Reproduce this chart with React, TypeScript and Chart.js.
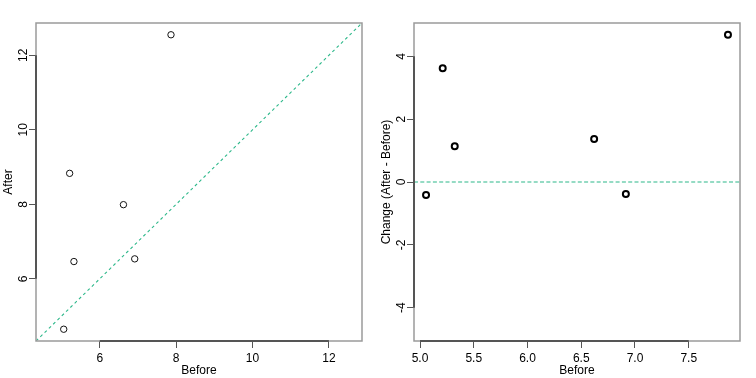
import React, { useEffect, useRef } from "react";
import { Chart, registerables } from "chart.js";

Chart.register(...registerables);

// ---- Data ----
const before = [5.056, 5.211, 5.323, 6.62, 6.915, 7.865];
const after = [4.646, 8.831, 6.463, 7.99, 6.535, 12.551];
const change = [-0.41, 3.62, 1.14, 1.37, -0.38, 4.686];

const leftLim = [4.33, 12.867];
const leftXTicks = [6, 8, 10, 12];
const leftYTicks = [6, 8, 10, 12];
const leftXLabels = ["6", "8", "10", "12"];
const leftYLabels = ["6", "8", "10", "12"];

const rightXLim = [4.944, 7.977];
const rightYLim = [-5.061, 5.061];
const rightXTicks = [5.0, 5.5, 6.0, 6.5, 7.0, 7.5];
const rightXLabels = ["5.0", "5.5", "6.0", "6.5", "7.0", "7.5"];
const rightYTicks = [-4, -2, 0, 2, 4];
const rightYLabels = ["-4", "-2", "0", "2", "4"];

const FONT = "'Liberation Sans', Arial, Helvetica, sans-serif";
const TEAL = "#2DB88A";
const BOX = "#9a9a9a";
const AXIS = "#555555";

const framePlugin = {
  id: "rframe",
  afterDraw(chart: any) {
    const { ctx, chartArea } = chart;
    const { left, right, top, bottom } = chartArea;
    const xs = chart.scales.x;
    const ys = chart.scales.y;
    const opts = chart.options.plugins.rframe;
    ctx.save();
    ctx.strokeStyle = BOX;
    ctx.lineWidth = 1.5;
    ctx.strokeRect(left, top, right - left, bottom - top);
    ctx.strokeStyle = AXIS;
    ctx.lineWidth = 2;
    ctx.beginPath();
    const xt = xs.ticks;
    ctx.moveTo(xs.getPixelForValue(xt[0].value), bottom);
    ctx.lineTo(xs.getPixelForValue(xt[xt.length - 1].value), bottom);
    const yt = ys.ticks;
    ctx.moveTo(left, ys.getPixelForValue(yt[0].value));
    ctx.lineTo(left, ys.getPixelForValue(yt[yt.length - 1].value));
    ctx.stroke();
    ctx.fillStyle = "#000";
    ctx.font = `12px ${FONT}`;
    ctx.textAlign = "center";
    ctx.textBaseline = "alphabetic";
    yt.forEach((t: any, i: number) => {
      const y = ys.getPixelForValue(t.value);
      ctx.save();
      ctx.translate(left - 9.3, y);
      ctx.rotate(-Math.PI / 2);
      ctx.fillText(opts.yLabels[i], 0, 0);
      ctx.restore();
    });
    ctx.restore();
  },
};

function makeOptions(
  xLim: number[],
  yLim: number[],
  xTicks: number[],
  xLabels: string[],
  yTicks: number[],
  yLabels: string[],
  yTitle: string
): any {
  return {
    responsive: false,
    maintainAspectRatio: false,
    animation: false,
    devicePixelRatio: 1,
    layout: { padding: { top: 23, right: 16, left: 0, bottom: 0 } },
    plugins: {
      legend: { display: false },
      tooltip: { enabled: false },
      rframe: { yLabels },
    },
    scales: {
      x: {
        type: "linear",
        position: "bottom",
        min: xLim[0],
        max: xLim[1],
        afterBuildTicks: (s: any) => {
          s.ticks = xTicks.map((v) => ({ value: v }));
        },
        afterFit: (s: any) => {
          s.height = 37;
        },
        grid: {
          drawOnChartArea: false,
          drawTicks: true,
          tickLength: 7,
          color: AXIS,
          lineWidth: 1,
        },
        border: { display: false },
        ticks: {
          autoSkip: false,
          maxRotation: 0,
          minRotation: 0,
          padding: 3,
          color: "#000",
          font: { size: 12, family: FONT },
          callback: (_v: any, i: number) => xLabels[i],
        },
        title: {
          display: true,
          text: "Before",
          color: "#000",
          font: { size: 12, family: FONT, lineHeight: 1.2 },
          padding: { top: 0, bottom: 0 },
        },
      },
      y: {
        type: "linear",
        position: "left",
        min: yLim[0],
        max: yLim[1],
        afterBuildTicks: (s: any) => {
          s.ticks = yTicks.map((v) => ({ value: v }));
        },
        afterFit: (s: any) => {
          s.width = 36;
        },
        grid: {
          drawOnChartArea: false,
          drawTicks: true,
          tickLength: 7,
          color: AXIS,
          lineWidth: 1,
        },
        border: { display: false },
        ticks: { display: false },
        title: {
          display: true,
          text: yTitle,
          color: "#000",
          font: { size: 12, family: FONT, lineHeight: 1.2 },
          padding: { top: 1.5, bottom: 0 },
        },
      },
    },
  };
}

function LeftChart() {
  const ref = useRef<HTMLCanvasElement | null>(null);
  useEffect(() => {
    if (!ref.current) return;
    const chart = new Chart(ref.current, {
      type: "scatter",
      data: {
        datasets: [
          {
            type: "line",
            data: [
              { x: leftLim[0], y: leftLim[0] },
              { x: leftLim[1], y: leftLim[1] },
            ],
            borderColor: TEAL,
            backgroundColor: TEAL,
            borderWidth: 1.1,
            borderDash: [3, 3],
            pointRadius: 0,
            fill: false,
          } as any,
          {
            data: before.map((b, i) => ({ x: b, y: after[i] })),
            pointStyle: "circle",
            pointRadius: 3.2,
            borderColor: "#111",
            borderWidth: 1,
            backgroundColor: "rgba(0,0,0,0)",
          },
        ],
      },
      options: makeOptions(
        leftLim,
        leftLim,
        leftXTicks,
        leftXLabels,
        leftYTicks,
        leftYLabels,
        "After"
      ),
      plugins: [framePlugin],
    });
    return () => chart.destroy();
  }, []);
  return (
    <canvas
      ref={ref}
      width={378}
      height={378}
      style={{ position: "absolute", left: 0, top: 0, width: 378, height: 378 }}
    />
  );
}

function RightChart() {
  const ref = useRef<HTMLCanvasElement | null>(null);
  useEffect(() => {
    if (!ref.current) return;
    const chart = new Chart(ref.current, {
      type: "scatter",
      data: {
        datasets: [
          {
            type: "line",
            data: [
              { x: rightXLim[0], y: 0 },
              { x: rightXLim[1], y: 0 },
            ],
            borderColor: TEAL,
            backgroundColor: TEAL,
            borderWidth: 1.2,
            borderDash: [4, 2.3],
            pointRadius: 0,
            fill: false,
          } as any,
          {
            data: before.map((b, i) => ({ x: b, y: change[i] })),
            pointStyle: "circle",
            pointRadius: 3,
            borderColor: "#000",
            borderWidth: 2,
            backgroundColor: "rgba(0,0,0,0)",
          },
        ],
      },
      options: makeOptions(
        rightXLim,
        rightYLim,
        rightXTicks,
        rightXLabels,
        rightYTicks,
        rightYLabels,
        "Change (After - Before)"
      ),
      plugins: [framePlugin],
    });
    return () => chart.destroy();
  }, []);
  return (
    <canvas
      ref={ref}
      width={378}
      height={378}
      style={{ position: "absolute", left: 378, top: 0, width: 378, height: 378 }}
    />
  );
}

export default function App() {
  return (
    <div
      style={{
        position: "absolute",
        left: 0,
        top: 0,
        width: 756,
        height: 378,
        background: "#fff",
      }}
    >
      <LeftChart />
      <RightChart />
    </div>
  );
}
